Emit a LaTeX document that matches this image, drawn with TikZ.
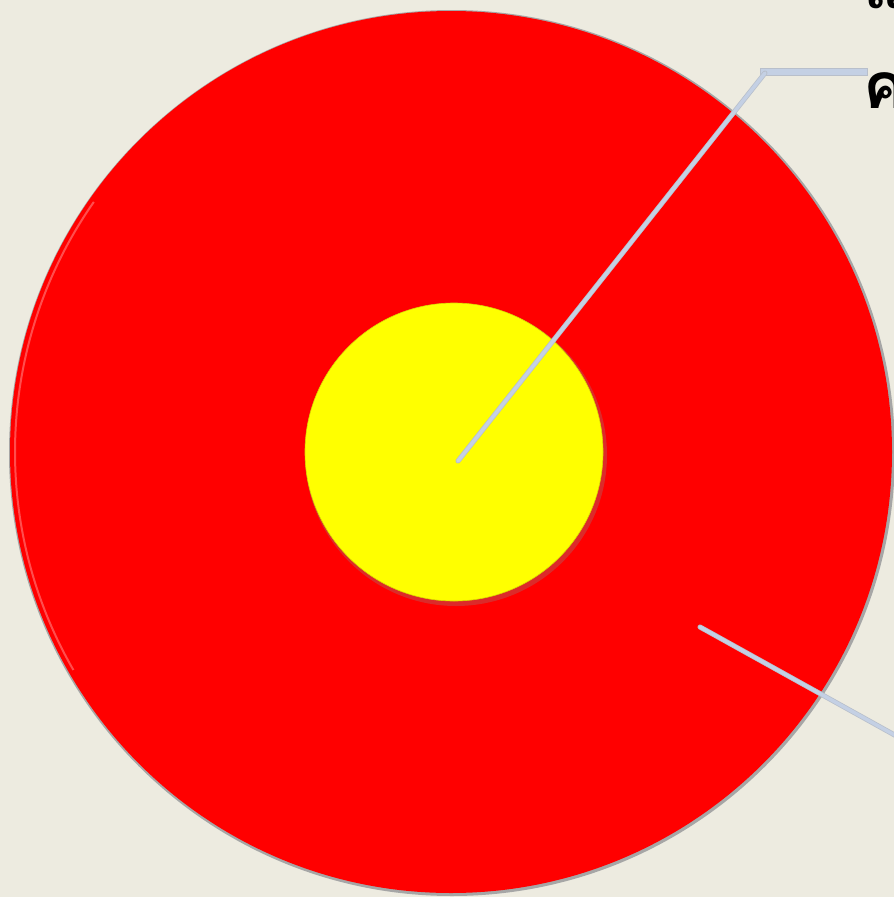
\documentclass[tikz,border=0pt]{standalone}
\usepackage{fontspec}
\newfontfamily\thaifont[Script=Thai]{Loma}
\definecolor{bgc}{HTML}{EDEBE0}
\definecolor{redc}{HTML}{FF0000}
\definecolor{yelc}{HTML}{FFFF00}
\definecolor{linec}{HTML}{C4D0E4}
\definecolor{lineb}{HTML}{9AA4B4}
\tikzset{
  leader/.style={draw=linec, line width=3.5pt, line cap=round},
  leaderedge/.style={draw=lineb!70, line width=5pt, line cap=round},
  lbl/.style={font=\thaifont\bfseries\fontsize{64}{66}\selectfont, anchor=base west, inner sep=0pt, text=black}
}
\begin{document}
\begin{tikzpicture}[x=1pt,y=-1pt]
  \useasboundingbox (0,0) rectangle (894,897);
  \clip (0,0) rectangle (894,897);
  \fill[bgc] (0,0) rectangle (894,897);
  % mantle
  \fill[gray!70] (452,453) circle (443);
  \node[circle, fill=redc, minimum size=882pt, inner sep=0pt] (mantle) at (451,452) {};
  \draw[white, opacity=0.3, line width=2pt] (451,452) ++(150:436) arc (150:215:436);
  % core
  \fill[black!45, opacity=0.3] (456,455) circle (151);
  \node[circle, fill=yelc, draw=yelc!85!black, line width=0.6pt, minimum size=298pt, inner sep=0pt] (core) at (454,452) {};
  % labels
  \node[lbl] (t1) at (863,8) {แ};
  \node[lbl] (t2) at (863,108) {ค};
  % leaders
  \coordinate (k1) at (765,73);
  \coordinate (k2) at (868,72);
  \coordinate (c1) at (458,461);
  \coordinate (m1) at (700,627);
  \coordinate (m2) at (900,738);
  \draw[draw=lineb!70, line width=8pt] (760,72) -- (k2);
  \draw[draw=linec, line width=6pt] (761,72) -- (867,72);
  \draw[leaderedge] (c1) -- (k1);
  \draw[leader] (c1) -- (k1);
  \draw[leaderedge] (m1) -- (m2);
  \draw[leader] (m1) -- (m2);
\end{tikzpicture}
\end{document}
